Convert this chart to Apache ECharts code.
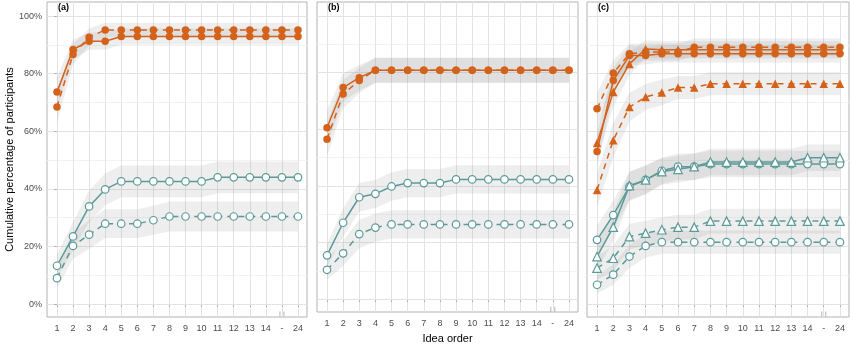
<!DOCTYPE html>
<html>
<head>
<meta charset="utf-8">
<script src="https://cdn.jsdelivr.net/npm/echarts@6/dist/echarts.min.js"></script>
<style>
html, body { margin: 0; padding: 0; background: #fff; }
#chart { width: 850px; height: 349px; }
</style>
</head>
<body>
<div id="chart"></div>
<script>
// x categories and y ticks
const xLabels = ['1', '2', '3', '4', '5', '6', '7', '8', '9', '10', '11', '12', '13', '14', '-', '24'];
const yTicks = [0, 20, 40, 60, 80, 100];
const yMinor = [10, 30, 50, 70, 90];

// panel (a)
const aOrangeSolid = [73.6, 88.4, 91.3, 91.3, 92.9, 92.9, 92.9, 92.9, 92.9, 92.9, 92.9, 92.9, 92.9, 92.9, 92.9, 92.9];
const aOrangeSolidCi = [5, 3.5, 3, 3, 2.8, 2.8, 2.8, 2.8, 2.8, 2.8, 2.8, 2.8, 2.8, 2.8, 2.8, 2.8];
const aOrangeDash = [68.4, 86.7, 92.7, 95.2, 95.2, 95.2, 95.2, 95.2, 95.2, 95.2, 95.2, 95.2, 95.2, 95.2, 95.2, 95.2];
const aOrangeDashCi = [5.5, 3.5, 3, 2.5, 2.5, 2.5, 2.5, 2.5, 2.5, 2.5, 2.5, 2.5, 2.5, 2.5, 2.5, 2.5];
const aTealSolid = [13.3, 23.5, 33.9, 39.8, 42.6, 42.6, 42.6, 42.6, 42.6, 42.6, 44.0, 44.0, 44.0, 44.0, 44.0, 44.0];
const aTealSolidCi = [4, 5, 5.5, 5.5, 5.5, 5.5, 5.5, 5.5, 5.5, 5.5, 5.5, 5.5, 5.5, 5.5, 5.5, 5.5];
const aTealDash = [9.0, 20.2, 24.1, 27.9, 27.9, 27.9, 29.1, 30.4, 30.4, 30.4, 30.4, 30.4, 30.4, 30.4, 30.4, 30.4];
const aTealDashCi = [3.5, 4.5, 5, 5, 5, 5, 5, 5.2, 5.2, 5.2, 5.2, 5.2, 5.2, 5.2, 5.2, 5.2];

// panel (b)
const bOrangeSolid = [60.5, 74.7, 78.2, 80.8, 80.8, 80.8, 80.8, 80.8, 80.8, 80.8, 80.8, 80.8, 80.8, 80.8, 80.8, 80.8];
const bOrangeSolidCi = [6, 5, 4.5, 4.4, 4.4, 4.4, 4.4, 4.4, 4.4, 4.4, 4.4, 4.4, 4.4, 4.4, 4.4, 4.4];
const bOrangeDash = [56.5, 72.4, 77.2, 80.8, 80.8, 80.8, 80.8, 80.8, 80.8, 80.8, 80.8, 80.8, 80.8, 80.8, 80.8, 80.8];
const bOrangeDashCi = [6, 5, 4.5, 4.4, 4.4, 4.4, 4.4, 4.4, 4.4, 4.4, 4.4, 4.4, 4.4, 4.4, 4.4, 4.4];
const bTealSolid = [15.5, 27.0, 36.0, 37.2, 39.8, 41.0, 41.0, 41.0, 42.3, 42.3, 42.3, 42.3, 42.3, 42.3, 42.3, 42.3];
const bTealSolidCi = [4, 5, 5, 5, 5, 5, 5, 5, 5, 5, 5, 5, 5, 5, 5, 5];
const bTealDash = [10.4, 16.2, 23.0, 25.3, 26.4, 26.4, 26.4, 26.4, 26.4, 26.4, 26.4, 26.4, 26.4, 26.4, 26.4, 26.4];
const bTealDashCi = [3.5, 4.5, 5, 5, 5, 5, 5, 5, 5, 5, 5, 5, 5, 5, 5, 5];

// panel (c)
const cOrangeSolidCircle = [53.0, 77.6, 86.3, 86.3, 86.9, 86.9, 86.9, 86.9, 86.9, 86.9, 86.9, 86.9, 86.9, 86.9, 86.9, 86.9];
const cOrangeSolidCircleCi = [6, 4.5, 3.5, 3, 3, 3, 3, 3, 3, 3, 3, 3, 3, 3, 3, 3];
const cOrangeDashCircle = [67.8, 80.2, 86.9, 87.5, 87.5, 87.5, 89.2, 89.2, 89.2, 89.2, 89.2, 89.2, 89.2, 89.2, 89.2, 89.2];
const cOrangeDashCircleCi = [5.5, 4.5, 3.5, 3, 3, 3, 3, 3, 3, 3, 3, 3, 3, 3, 3, 3];
const cOrangeSolidTri = [55.9, 73.6, 83.4, 88.6, 88.3, 88.3, 88.3, 88.3, 88.3, 88.3, 88.3, 88.3, 88.3, 88.3, 88.3, 88.3];
const cOrangeSolidTriCi = [6, 5, 4, 3, 3, 3, 3, 3, 3, 3, 3, 3, 3, 3, 3, 3];
const cOrangeDashTri = [39.6, 56.9, 68.4, 71.9, 73.5, 75.2, 75.2, 76.5, 76.5, 76.5, 76.5, 76.5, 76.5, 76.5, 76.5, 76.5];
const cOrangeDashTriCi = [6, 6, 5, 4.5, 4.5, 4, 4, 4, 4, 4, 4, 4, 4, 4, 4, 4];
const cTealSolidCircle = [22.3, 30.9, 40.8, 43.1, 46.3, 47.7, 47.7, 48.6, 48.6, 48.6, 48.6, 48.6, 48.6, 48.6, 48.6, 48.6];
const cTealSolidCircleCi = [5, 5, 5, 5, 4.6, 4.6, 4.6, 4.6, 4.6, 4.6, 4.6, 4.6, 4.6, 4.6, 4.6, 4.6];
const cTealSolidTri = [16.5, 26.7, 41.1, 43.1, 46.0, 46.8, 47.7, 49.3, 49.3, 49.3, 49.3, 49.3, 49.3, 50.8, 50.8, 50.8];
const cTealSolidTriCi = [4.5, 5, 5, 5, 4.6, 4.6, 4.6, 4.6, 4.6, 4.6, 4.6, 4.6, 4.6, 4.6, 4.6, 4.6];
const cTealDashTri = [12.5, 15.9, 23.4, 24.6, 25.8, 26.7, 26.7, 28.8, 28.8, 28.8, 28.8, 28.8, 28.8, 28.8, 28.8, 28.8];
const cTealDashTriCi = [4, 4.5, 4.5, 4.3, 4.3, 4.3, 4.3, 4.3, 4.3, 4.3, 4.3, 4.3, 4.3, 4.3, 4.3, 4.3];
const cTealDashCircle = [6.7, 10.2, 16.5, 20.2, 21.5, 21.5, 21.5, 21.5, 21.5, 21.5, 21.5, 21.5, 21.5, 21.5, 21.5, 21.5];
const cTealDashCircleCi = [3, 3.5, 4, 4, 4, 4, 4, 4, 4, 4, 4, 4, 4, 4, 4, 4];

const ORANGE = '#D4621A';
const TEAL = '#5B9A99';
const FONT = '"Liberation Sans", Arial, sans-serif';

const line = (v, ci, color, dashed, symbol) => ({ v, ci, color, dashed, symbol, open: color === TEAL });

const panels = [
  { tag: '(a)', left: 47, width: 260, lines: [
    line(aOrangeSolid, aOrangeSolidCi, ORANGE, false, 'circle'),
    line(aOrangeDash, aOrangeDashCi, ORANGE, true, 'circle'),
    line(aTealSolid, aTealSolidCi, TEAL, false, 'circle'),
    line(aTealDash, aTealDashCi, TEAL, true, 'circle')
  ]},
  { tag: '(b)', left: 317, width: 261, lines: [
    line(bOrangeSolid, bOrangeSolidCi, ORANGE, false, 'circle'),
    line(bOrangeDash, bOrangeDashCi, ORANGE, true, 'circle'),
    line(bTealSolid, bTealSolidCi, TEAL, false, 'circle'),
    line(bTealDash, bTealDashCi, TEAL, true, 'circle')
  ]},
  { tag: '(c)', left: 587, width: 262, lines: [
    line(cOrangeSolidCircle, cOrangeSolidCircleCi, ORANGE, false, 'circle'),
    line(cOrangeDashCircle, cOrangeDashCircleCi, ORANGE, true, 'circle'),
    line(cOrangeSolidTri, cOrangeSolidTriCi, ORANGE, false, 'triangle'),
    line(cOrangeDashTri, cOrangeDashTriCi, ORANGE, true, 'triangle'),
    line(cTealSolidCircle, cTealSolidCircleCi, TEAL, false, 'circle'),
    line(cTealSolidTri, cTealSolidTriCi, TEAL, false, 'triangle'),
    line(cTealDashTri, cTealDashTriCi, TEAL, true, 'triangle'),
    line(cTealDashCircle, cTealDashCircleCi, TEAL, true, 'circle')
  ]}
];

const xIdx = xLabels.map((_, i) => i);
const breakMarkY = -3.5;

// ribbon polygon drawn through the axes' own coord()
function renderBand(params, api) {
  if (params.dataIndexInside !== 0) return;
  const n = params.dataInsideLength;
  const top = [], bottom = [];
  for (let i = 0; i < n; i++) {
    top.push(api.coord([api.value(0, i), api.value(2, i)]));
    bottom.push(api.coord([api.value(0, i), api.value(1, i)]));
  }
  return {
    type: 'polygon',
    shape: { points: top.concat(bottom.reverse()) },
    style: { fill: 'rgba(140,140,140,0.15)' },
    silent: true
  };
}

const grid = [], xAxis = [], yAxis = [], series = [], title = [];

panels.forEach((p, pi) => {
  grid.push({ left: p.left, width: p.width, top: 2, height: 315, show: true,
    backgroundColor: '#fff', borderColor: '#b3b3b3', borderWidth: 1 });
  title.push({ text: p.tag, left: p.left + 11, top: 3, padding: 0,
    textStyle: { fontSize: 9, fontWeight: 'bold', color: '#000', fontFamily: FONT } });

  xAxis.push({
    type: 'value', gridIndex: pi, min: -0.62, max: 15.56,
    axisLine: { show: false },
    axisTick: { show: true, length: 3, lineStyle: { color: '#b3b3b3' }, customValues: xIdx },
    axisLabel: { customValues: xIdx, formatter: v => xLabels[v], fontSize: 9, color: '#4d4d4d', margin: 7, fontFamily: FONT },
    splitLine: { show: true, lineStyle: { color: '#e3e3e3', width: 1 } },
    name: pi === 1 ? 'Idea order' : '', nameLocation: 'middle', nameGap: 21,
    nameTextStyle: { fontSize: 11, color: '#000', fontFamily: FONT }
  });

  yAxis.push({
    type: 'value', gridIndex: pi, min: -4.5, max: 104.9, z: 1,
    axisLine: { show: false },
    axisTick: { show: pi === 0, length: 3, lineStyle: { color: '#b3b3b3' }, customValues: yTicks },
    axisLabel: { show: pi === 0, customValues: yTicks, formatter: v => v + '%', fontSize: 9, color: '#4d4d4d', margin: 5, fontFamily: FONT },
    splitLine: { show: true, lineStyle: { color: '#e3e3e3', width: 1 } },
    name: pi === 0 ? 'Cumulative percentage of participants' : '', nameLocation: 'middle', nameGap: 30,
    nameTextStyle: { fontSize: 11, color: '#000', fontFamily: FONT }
  });
  // minor grid lines
  yAxis.push({
    type: 'value', gridIndex: pi, min: -4.5, max: 104.9, z: 0, position: 'left',
    axisLine: { show: false },
    axisTick: { show: false, customValues: yMinor },
    axisLabel: { show: false, customValues: yMinor },
    splitLine: { show: true, lineStyle: { color: '#f2f2f2', width: 1 } }
  });

  // confidence ribbons
  p.lines.forEach(ln => {
    series.push({
      type: 'custom', xAxisIndex: pi, yAxisIndex: pi * 2, z: 1, silent: true,
      data: ln.v.map((v, i) => [i, v - ln.ci[i], v + ln.ci[i]]),
      encode: { x: 0, y: [1, 2] },
      renderItem: renderBand
    });
  });

  p.lines.forEach(ln => {
    series.push({
      type: 'line', xAxisIndex: pi, yAxisIndex: pi * 2, z: 3,
      data: ln.v.map((v, i) => [i, v]),
      symbol: ln.symbol, symbolSize: ln.symbol === 'triangle' ? 8.5 : 7.5, showAllSymbol: true,
      lineStyle: { color: ln.color, width: 1.5, type: ln.dashed ? [6, 5] : 'solid' },
      itemStyle: { color: ln.open ? '#fff' : ln.color, borderColor: ln.color, borderWidth: ln.open ? 1.2 : 0 }
    });
  });

  // axis break mark at "-"
  series.push({
    type: 'scatter', xAxisIndex: pi, yAxisIndex: pi * 2, z: 4, silent: true,
    data: [[xLabels.indexOf('-'), breakMarkY]],
    symbol: 'path://M0,0L0,10M6,0L6,10', symbolSize: [4, 5],
    itemStyle: { color: 'rgba(0,0,0,0)', borderColor: '#999', borderWidth: 1 }
  });
});

const chart = echarts.init(document.getElementById('chart'));
chart.setOption({
  animation: false,
  backgroundColor: '#fff',
  title, grid, xAxis, yAxis, series
});
</script>
</body>
</html>
